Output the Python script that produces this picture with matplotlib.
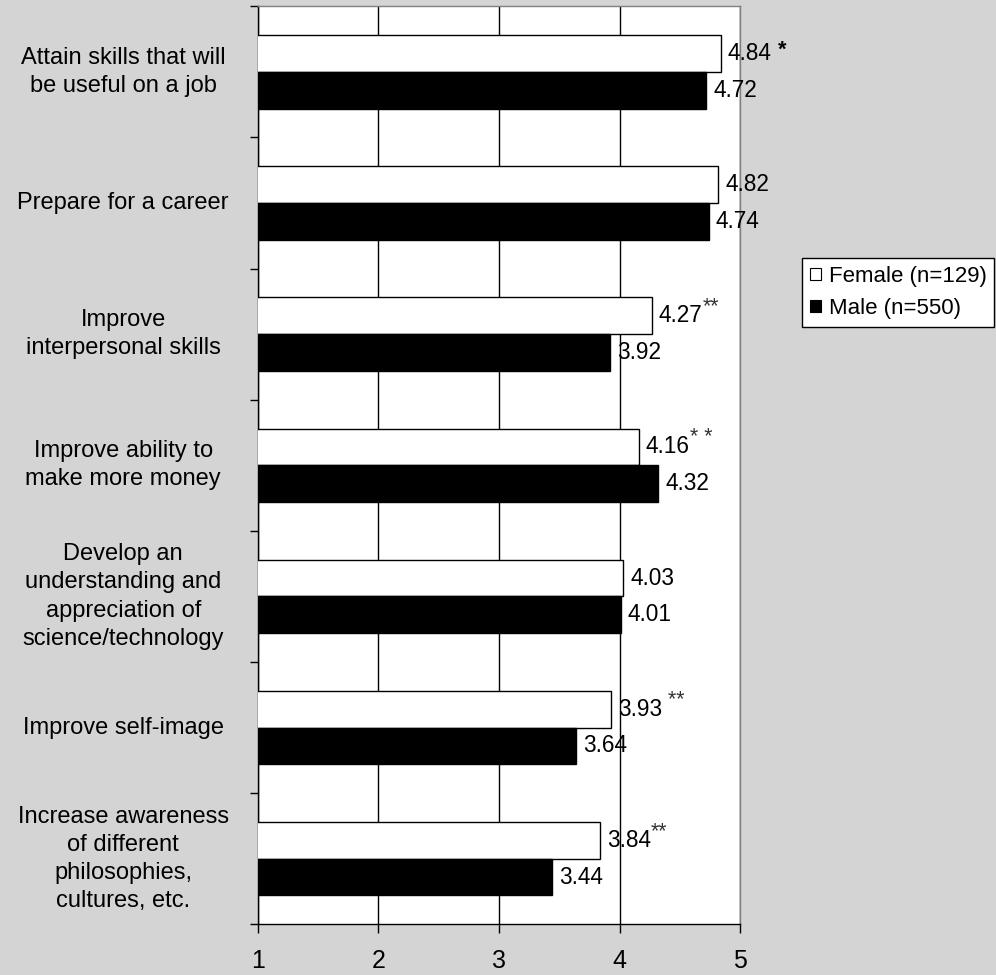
import numpy as np
import matplotlib
matplotlib.use("Agg")
import matplotlib.pyplot as plt
from matplotlib.patches import Patch


categories = [
    "Attain skills that will\nbe useful on a job",
    "Prepare for a career",
    "Improve\ninterpersonal skills",
    "Improve ability to\nmake more money",
    "Develop an\nunderstanding and\nappreciation of\nscience/technology",
    "Improve self-image",
    "Increase awareness\nof different\nphilosophies,\ncultures, etc.",
]
female = [4.84, 4.82, 4.27, 4.16, 4.03, 3.93, 3.84]
male = [4.72, 4.74, 3.92, 4.32, 4.01, 3.64, 3.44]
female_sig = [" *", "", "**", "* *", "", " **", "**"]   # marques de significativité
legend_labels = ["Female (n=129)", "Male (n=550)"]
x_ticks = [1, 2, 3, 4, 5]

BG = "#d4d4d4"
plt.rcParams["font.family"] = ["Liberation Sans", "DejaVu Sans"]

fig = plt.figure(figsize=(9.96, 9.75), dpi=100, facecolor=BG)
ax = fig.add_axes([0.259, 0.052, 0.484, 0.9415])
ax.set_facecolor("white")

y = np.arange(len(categories))
h = 0.28

ax.barh(y - h / 2, female, height=h, color="white", edgecolor="black",
        linewidth=1, zorder=3)
ax.barh(y + h / 2, male, height=h, color="black", edgecolor="black",
        linewidth=1, zorder=3)

# valeurs à droite des barres
for yy, v, sig in zip(y, female, female_sig):
    txt = ax.annotate(f"{v:.2f}", xy=(v, yy - h / 2), xytext=(5, 0),
                      textcoords="offset points", va="center", ha="left",
                      fontsize=16.3, zorder=5)
    if sig:
        single = sig == " *"
        ax.annotate(sig, xy=(1, 0.5), xycoords=txt,
                    xytext=(0, 2 if single else 6.5), textcoords="offset points",
                    va="center", ha="left", fontsize=15.5,
                    color="black" if single else "#333333",
                    fontweight="bold" if single else "normal", zorder=5)

for yy, v in zip(y, male):
    ax.annotate(f"{v:.2f}", xy=(v, yy + h / 2), xytext=(5, 0),
                textcoords="offset points", va="center", ha="left",
                fontsize=16.3, zorder=5)

ax.set_xlim(1, 5)
ax.set_ylim(len(categories) - 0.5, -0.5)

ax.set_xticks(x_ticks)
ax.set_xticklabels([str(t) for t in x_ticks], fontsize=18)
ax.tick_params(axis="x", direction="out", length=6.5, width=1, pad=11)

ax.set_yticks(y)
ax.set_yticklabels(categories, fontsize=17, ha="center", va="center",
                   multialignment="center", linespacing=1.36)
ax.tick_params(axis="y", which="major", length=0, pad=97)
ax.set_yticks(np.arange(-0.5, len(categories), 1), minor=True)
ax.tick_params(axis="y", which="minor", direction="out", length=6, width=1)

ax.xaxis.grid(True, color="black", linewidth=1)
ax.set_axisbelow(True)

ax.spines["left"].set_color("black")
ax.spines["bottom"].set_color("black")
ax.spines["top"].set_color("#808080")
ax.spines["right"].set_color("#808080")
for s in ax.spines.values():
    s.set_linewidth(1)

handles = [
    Patch(facecolor="white", edgecolor="black", linewidth=0.8),
    Patch(facecolor="black", edgecolor="black", linewidth=0.8),
]
leg = fig.legend(handles, legend_labels, loc="upper left",
                 bbox_to_anchor=(802 / 996, 1 - 258 / 975),
                 fontsize=16, frameon=True, fancybox=False, framealpha=1,
                 edgecolor="black", handlelength=0.5, handleheight=0.5,
                 handletextpad=0.35, borderpad=0.35, labelspacing=0.5,
                 borderaxespad=0)
leg.get_frame().set_linewidth(1)

fig.savefig("out.png", dpi=100, facecolor=BG)
